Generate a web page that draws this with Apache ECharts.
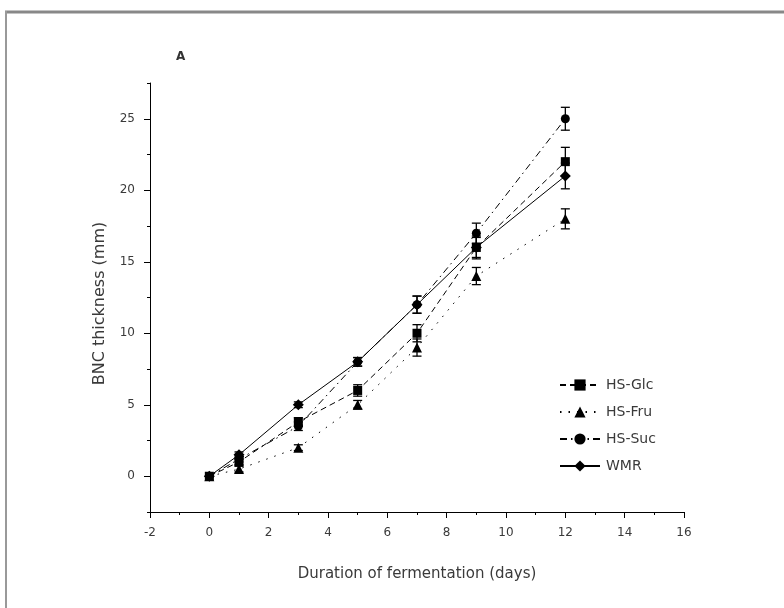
<!DOCTYPE html>
<html>
<head>
<meta charset="utf-8">
<script src="https://cdn.jsdelivr.net/npm/echarts@6/dist/echarts.min.js"></script>
<style>
  html, body { margin: 0; padding: 0; background: #fff; }
  #chart { width: 784px; height: 608px; }
</style>
</head>
<body>
<div id="chart"></div>
<script>
// Fermentation days sampled
const days = [0, 1, 3, 5, 7, 9, 12];

// Mean BNC thickness (mm) per medium
const hsGlc = [0, 1.0, 3.8, 6.0, 10.0, 16.0, 22.0];
const hsFru = [0, 0.5, 2.0, 5.0, 9.0, 14.0, 18.0];
const hsSuc = [0, 1.2, 3.5, 8.0, 12.0, 17.0, 25.0];
const wmr   = [0, 1.5, 5.0, 8.0, 12.0, 16.0, 21.0];

// Standard deviations (mm)
const hsGlcErr = [0, 0.2, 0.3, 0.4, 0.6, 0.7, 1.0];
const hsFruErr = [0, 0.2, 0.2, 0.3, 0.6, 0.6, 0.7];
const hsSucErr = [0, 0.2, 0.3, 0.3, 0.6, 0.7, 0.8];
const wmrErr   = [0, 0.2, 0.2, 0.3, 0.6, 0.8, 0.9];

// Axis tick labels
const yLabels = [0, 5, 10, 15, 20, 25];
const yMinor = [-2.5, 2.5, 7.5, 12.5, 17.5, 22.5, 27.5];

const FONT = '"DejaVu Sans", "Open Sans", sans-serif';
const TXT = '#3a3a3a';

function pairs(ys) { return days.map((d, i) => [d, ys[i]]); }
function errData(ys, es) { return days.map((d, i) => [d, ys[i] - es[i], ys[i] + es[i]]); }

function renderErr(params, api) {
  const x = api.value(0), lo = api.value(1), hi = api.value(2);
  if (hi - lo <= 0) return;
  const top = api.coord([x, hi]);
  const bot = api.coord([x, lo]);
  const w = 4.5;
  const st = { stroke: '#000', lineWidth: 1.3 };
  return {
    type: 'group',
    children: [
      { type: 'line', shape: { x1: top[0], y1: top[1], x2: bot[0], y2: bot[1] }, style: st },
      { type: 'line', shape: { x1: top[0] - w, y1: top[1], x2: top[0] + w, y2: top[1] }, style: st },
      { type: 'line', shape: { x1: bot[0] - w, y1: bot[1], x2: bot[0] + w, y2: bot[1] }, style: st }
    ]
  };
}

function lineSeries(name, ys, symbol, size, dash) {
  return {
    name: name,
    type: 'line',
    data: pairs(ys),
    symbol: symbol,
    symbolSize: size,
    showAllSymbol: true,
    z: 5,
    lineStyle: { color: '#000', width: 1, type: dash },
    itemStyle: { color: '#000' }
  };
}

function errSeries(ys, es) {
  return {
    type: 'custom',
    renderItem: renderErr,
    data: errData(ys, es),
    z: 4,
    silent: true
  };
}

const chart = echarts.init(document.getElementById('chart'), null, { renderer: 'canvas' });

chart.setOption({
  animation: false,
  backgroundColor: '#fff',
  title: {
    text: 'A',
    left: 171,
    top: 46,
    textStyle: { fontFamily: FONT, fontSize: 12, fontWeight: 'bold', color: '#333' }
  },
  graphic: [
    { type: 'line', shape: { x1: 5, y1: 12, x2: 784, y2: 12 }, style: { stroke: '#888', lineWidth: 3 } },
    { type: 'line', shape: { x1: 6, y1: 11, x2: 6, y2: 608 }, style: { stroke: '#999', lineWidth: 2 } }
  ],
  legend: {
    orient: 'vertical',
    left: 559,
    top: 378,
    padding: 0,
    itemWidth: 40,
    itemHeight: 14,
    itemGap: 13,
    data: ['HS-Glc', 'HS-Fru', 'HS-Suc', 'WMR'],
    textStyle: { fontFamily: FONT, fontSize: 14, color: TXT, padding: [0, 0, 0, 1] }
  },
  grid: { left: 150, right: 100, top: 83, bottom: 96, containLabel: false },
  xAxis: {
    type: 'value',
    min: -2,
    max: 16,
    interval: 2,
    name: 'Duration of fermentation (days)',
    nameLocation: 'middle',
    nameGap: 55,
    nameTextStyle: { fontFamily: FONT, fontSize: 15, color: TXT },
    axisLine: { show: true, onZero: false, lineStyle: { color: '#000', width: 1 } },
    axisTick: { show: true, inside: false, length: 6, lineStyle: { color: '#000' } },
    minorTick: { show: true, splitNumber: 2, length: 3, lineStyle: { color: '#000' } },
    axisLabel: { fontFamily: FONT, fontSize: 12, color: TXT, margin: 15 },
    splitLine: { show: false }
  },
  yAxis: [
    {
      type: 'value',
      min: -2.5,
      max: 27.5,
      name: 'BNC thickness (mm)',
      nameLocation: 'middle',
      nameGap: 42,
      nameTextStyle: { fontFamily: FONT, fontSize: 16, color: TXT, padding: [0, 12, 0, 0] },
      axisLine: { show: true, onZero: false, lineStyle: { color: '#000', width: 1 } },
      axisTick: { show: true, inside: false, length: 6, customValues: yLabels, lineStyle: { color: '#000' } },
      axisLabel: { fontFamily: FONT, fontSize: 12, color: TXT, margin: 15, customValues: yLabels },
      splitLine: { show: false }
    },
    {
      type: 'value',
      min: -2.5,
      max: 27.5,
      position: 'left',
      axisLine: { show: false, onZero: false },
      axisTick: { show: true, inside: false, length: 3, customValues: yMinor, lineStyle: { color: '#000' } },
      axisLabel: { show: false, customValues: yMinor },
      splitLine: { show: false }
    }
  ],
  series: [
    errSeries(hsGlc, hsGlcErr),
    errSeries(hsFru, hsFruErr),
    errSeries(hsSuc, hsSucErr),
    errSeries(wmr, wmrErr),
    lineSeries('HS-Glc', hsGlc, 'rect', 9, [6, 4]),
    lineSeries('HS-Fru', hsFru, 'triangle', 10, [1.5, 7]),
    lineSeries('HS-Suc', hsSuc, 'circle', 9, [7, 4, 1.5, 4]),
    lineSeries('WMR', wmr, 'diamond', 11, 'solid')
  ]
});
</script>
</body>
</html>
